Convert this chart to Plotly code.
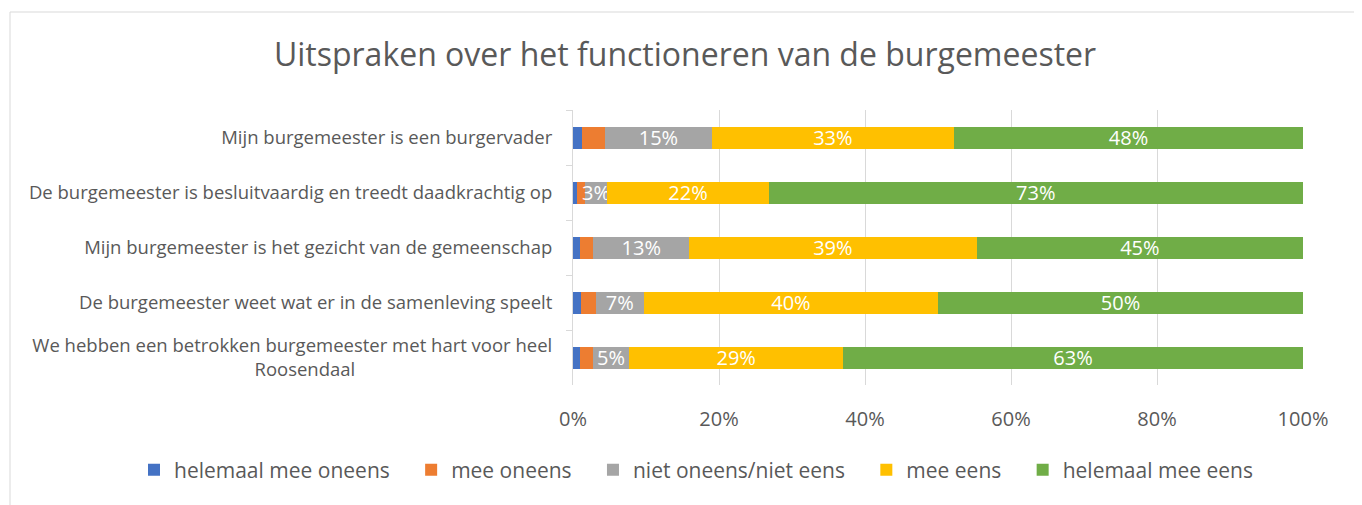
import plotly.graph_objects as go

categories = [
    "Mijn burgemeester is een burgervader",
    "De burgemeester is besluitvaardig en treedt daadkrachtig op",
    "Mijn burgemeester is het gezicht van de gemeenschap",
    "De burgemeester weet wat er in de samenleving speelt",
    "We hebben een betrokken burgemeester met hart voor heel<br>Roosendaal" + "\u00a0" * 41,
]
series_names = ["helemaal mee oneens", "mee oneens", "niet oneens/niet eens", "mee eens", "helemaal mee eens"]
helemaal_mee_oneens = [1.2, 0.6, 0.9, 1.1, 0.9]
mee_oneens = [3.2, 1.0, 1.9, 2.0, 1.8]
niet_oneens_niet_eens = [14.6, 3.1, 13.1, 6.6, 5.0]
mee_eens = [33.2, 22.1, 39.4, 40.3, 29.3]
helemaal_mee_eens = [47.8, 73.2, 44.7, 50.0, 63.0]
x_ticks = [0, 20, 40, 60, 80, 100]
x_tick_labels = ["0%", "20%", "40%", "60%", "80%", "100%"]

colors = ["#4472C4", "#ED7D31", "#A5A5A5", "#FFC000", "#70AD47"]
values = [helemaal_mee_oneens, mee_oneens, niet_oneens_niet_eens, mee_eens, helemaal_mee_eens]
show_labels = [False, False, True, True, True]

FONT = "Open Sans"
GREY = "#595959"
LEGEND_PAD = "\u00a0" * 3  # extra spacing between legend entries

W, H = 1354, 497
L, R, T, B = 565, 59, 102, 120
PW, PH = W - L - R, H - T - B

fig = go.Figure()
for name, vals, col, lab in zip(series_names, values, colors, show_labels):
    fig.add_trace(go.Bar(
        y=categories, x=vals, name=name + LEGEND_PAD, orientation="h",
        marker=dict(color=col, line=dict(width=0)),
        texttemplate="%{x:.0f}%" if lab else None,
        textposition="inside" if lab else "none",
        insidetextanchor="middle",
        textfont=dict(color="white", size=20, family=FONT),
        constraintext="none",
        hoverinfo="skip",
    ))

fig.update_layout(
    barmode="stack",
    bargap=0.6,
    width=W, height=H,
    margin=dict(l=L, r=R, t=T, b=B),
    paper_bgcolor="white", plot_bgcolor="white",
    font=dict(family=FONT, color=GREY, size=18),
    uniformtext=dict(mode="show", minsize=20),
    title=dict(text="Uitspraken over het functioneren van de burgemeester",
               x=0.5, xref="container", xanchor="center",
               y=1 - 47 / H, yref="container", yanchor="middle",
               font=dict(size=32, color=GREY, family=FONT)),
    legend=dict(orientation="h", xref="paper", x=(126 - L) / PW, xanchor="left",
                yref="paper", y=(T + PH - 462) / PH, yanchor="middle",
                font=dict(size=21, color=GREY, family=FONT), traceorder="normal",
                itemwidth=30),
    shapes=[dict(type="rect", xref="paper", yref="paper",
                 x0=(2 - L) / PW, x1=(1349 - L) / PW,
                 y0=(T + PH - 520) / PH, y1=(T + PH - 4) / PH,
                 line=dict(color="#D9D9D9", width=1), layer="below")],
)
fig.update_xaxes(range=[0, 100], tickvals=x_ticks, ticktext=x_tick_labels,
                 showgrid=True, gridcolor="#D9D9D9", gridwidth=1,
                 zeroline=False, showline=False,
                 tickfont=dict(size=20, color=GREY, family=FONT),
                 ticklabelstandoff=20)
fig.update_yaxes(type="category", autorange="reversed",
                 showline=True, linecolor="#D9D9D9", linewidth=1,
                 ticks="outside", tickson="boundaries", ticklen=6, tickcolor="#D9D9D9",
                 tickfont=dict(size=18.5, color=GREY, family=FONT),
                 ticklabelstandoff=16)

fig.write_html("out.html")
